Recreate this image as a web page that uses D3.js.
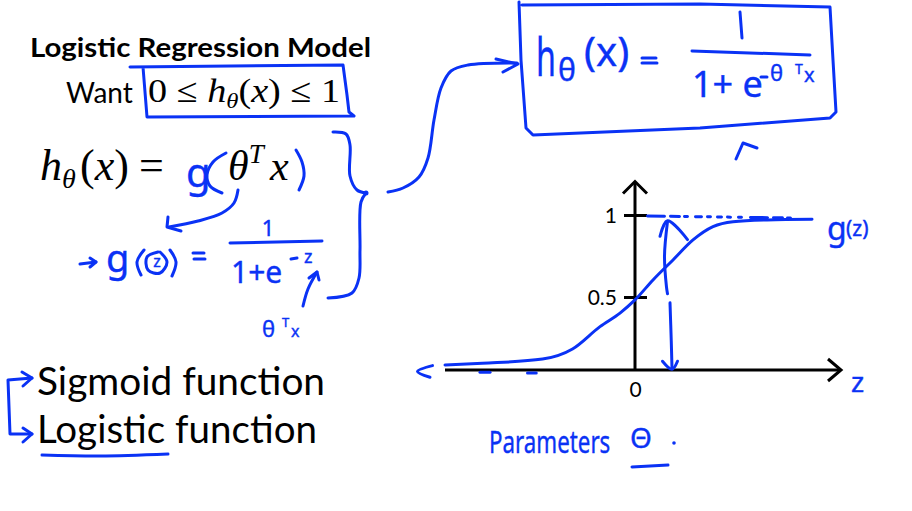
<!DOCTYPE html>
<html>
<head>
<meta charset="utf-8">
<script src="https://cdnjs.cloudflare.com/ajax/libs/d3/7.8.5/d3.min.js"></script>
<style>
	body { margin: 0; background: #fff; }
	#vis-main { width: 912px; height: 511px; }
	.hand { fill: #0a32f5; stroke: #0a32f5; stroke-width: 0.4; font-family: 'Noto Sans', sans-serif; }
	.ink { fill: none; stroke: #0a32f5; stroke-width: 3; stroke-linecap: round; stroke-linejoin: round; }
	.pen { fill: none; stroke: #000; stroke-width: 3; stroke-linecap: butt; }
	.slide { font-family: Lato, 'Open Sans', sans-serif; fill: #000; }
	.math { font-family: 'Liberation Serif', serif; fill: #000; }
	.tick text { font-family: Lato, sans-serif; font-size: 21px; fill: #000; }
</style>
</head>
<body>
<div id="vis-main"></div>
<script>

/* Data */
/* ---- */

var titleText = 'Logistic Regression Model';
var bulletLabels = ['Sigmoid function', 'Logistic function'];

// hand drawn sigmoid
var sigmoidZ = [-7.6, -6.1, -3.7, -2.5, -1.4, -0.6, 0, 0.72, 1.52, 2.32, 3.12, 3.92, 5.28, 7.08];
var sigmoidG = [0.034, 0.046, 0.075, 0.144, 0.297, 0.39, 0.48, 0.604, 0.726, 0.848, 0.929, 0.959, 0.970, 0.974];

var yTickValues = [0.5, 1];
var yTickLabels = ['0.5', '1'];
var xTickValues = [0];
var xTickLabels = ['0'];


/* Globals */
/* ------- */

var vis = vis || {};

vis.svg;
vis.scale = { x: undefined, y: undefined };
vis.line = d3.line();
vis.smooth = d3.line().curve(d3.curveCatmullRom.alpha(0.5));


/* Helpers */
/* ------- */

function ink(points, smooth) {

	return vis.svg.append('path')
		.attr('class', 'ink')
		.attr('d', smooth ? vis.smooth(points) : vis.line(points));

} // ink()

function hand(x, y, size, str, anchor) {

	return vis.svg.append('text')
		.attr('class', 'hand')
		.attr('x', x)
		.attr('y', y)
		.style('font-size', size + 'px')
		.attr('text-anchor', anchor || 'start')
		.text(str);

} // hand()


/* General */
/* ------- */

function setupVisual() {

	vis.svg = d3.select('#vis-main')
		.append('svg')
			.attr('width', 912)
			.attr('height', 511);

	vis.scale.x = d3.scaleLinear().domain([-8, 8]).range([435, 835]);
	vis.scale.y = d3.scaleLinear().domain([0, 0.5, 1]).range([370, 297, 215]); // hand drawn ticks are uneven

} // setupVisual()


/* Slide text */
/* ---------- */

function drawSlideText() {

	vis.svg.append('text')
		.attr('class', 'slide')
		.attr('x', 30).attr('y', 57)
		.attr('textLength', 341).attr('lengthAdjust', 'spacingAndGlyphs')
		.style('font-size', '27px').style('font-weight', 700)
		.text(titleText);

	vis.svg.append('text')
		.attr('class', 'slide')
		.attr('x', 66).attr('y', 103)
		.style('font-size', '28px')
		.text('Want');

	// 0 <= h(x) <= 1
	var want = vis.svg.append('text').attr('class', 'math').attr('y', 102).style('font-size', '34px')
		.attr('textLength', 192).attr('lengthAdjust', 'spacingAndGlyphs');
	want.append('tspan').attr('x', 148).text('0 ≤ ');
	want.append('tspan').style('font-style', 'italic').text('h');
	want.append('tspan').attr('dy', 6).style('font-size', '22px').style('font-style', 'italic').text('θ');
	want.append('tspan').attr('dy', -6).text('(');
	want.append('tspan').style('font-style', 'italic').text('x');
	want.append('tspan').text(') ≤ 1');

	// h(x) = g(theta^T x)
	var hx = vis.svg.append('text').attr('class', 'math').attr('y', 180).style('font-size', '44px');
	hx.append('tspan').attr('x', 40).style('font-style', 'italic').text('h');
	hx.append('tspan').attr('dy', 8).style('font-size', '28px').style('font-style', 'italic').text('θ');
	hx.append('tspan').attr('x', 80).attr('dy', -8).text('(');
	hx.append('tspan').style('font-style', 'italic').text('x');
	hx.append('tspan').text(')');
	hx.append('tspan').attr('x', 139).text('=');

	var th = vis.svg.append('text').attr('class', 'math').attr('y', 180).style('font-size', '42px').style('font-style', 'italic');
	th.append('tspan').attr('x', 228).text('θ');
	th.append('tspan').attr('dy', -17).style('font-size', '27px').text('T');
	th.append('tspan').attr('x', 270).attr('dy', 17).text('x');

	bulletLabels.forEach(function(d, i) {
		vis.svg.append('text')
			.attr('class', 'slide')
			.attr('x', 37).attr('y', 395 + i * 48)
			.attr('textLength', i ? 280 : 288).attr('lengthAdjust', 'spacingAndGlyphs')
			.style('font-size', '38px')
			.text(d);
	});

} // drawSlideText()


/* Sigmoid plot */
/* ------------ */

function drawPlot() {

	var x = vis.scale.x, y = vis.scale.y;

	// axes
	var yAxis = d3.axisLeft(y).tickValues(yTickValues)
		.tickFormat(function(d, i) { return yTickLabels[i]; })
		.tickSizeInner(12).tickSizeOuter(0).tickPadding(6);

	var gy = vis.svg.append('g').attr('transform', 'translate(' + x(0) + ',0)').call(yAxis);
	gy.select('.domain').remove();
	gy.selectAll('.tick line').attr('x1', -11).attr('x2', 12).attr('stroke', '#000').attr('stroke-width', 3);
	gy.selectAll('.tick text').attr('dy', '0.36em');

	var xAxis = d3.axisBottom(x).tickValues(xTickValues)
		.tickFormat(function(d, i) { return xTickLabels[i]; })
		.tickSize(0).tickPadding(12);

	var gx = vis.svg.append('g').attr('transform', 'translate(0,' + y(0) + ')').call(xAxis);
	gx.select('.domain').remove();

	var top = y(1.21), right = x(8.28);

	vis.svg.append('path').attr('class', 'pen').attr('d', vis.line([[x(0), y(0) + 1], [x(0), top + 2]]));
	vis.svg.append('path').attr('class', 'pen').attr('stroke-linejoin', 'miter')
		.attr('d', vis.line([[x(0) - 12, top + 13], [x(0), top + 1], [x(0) + 12, top + 13]]));
	vis.svg.append('path').attr('class', 'pen').attr('d', vis.line([[x(-7.6), y(0)], [right - 2, y(0)]]));
	vis.svg.append('path').attr('class', 'pen').attr('stroke-linejoin', 'miter')
		.attr('d', vis.line([[right - 14, y(0) - 11], [right - 1, y(0)], [right - 14, y(0) + 11]]));

	// sigmoid curve
	var pts = sigmoidZ.map(function(z, i) { return [x(z), y(sigmoidG[i])]; });
	vis.svg.append('path')
		.attr('class', 'ink')
		.attr('d', d3.line().curve(d3.curveMonotoneX)(pts));

	// dotted asymptote at g = 1
	vis.svg.append('path')
		.attr('class', 'ink')
		.attr('stroke-width', 2.5)
		.attr('stroke-linecap', 'butt')
		.attr('stroke-dasharray', '17,6,9,5,3,8,6,6,3,7,4,6,3,8,3,9')
		.attr('d', vis.line([[x(0.5), y(1) + 1], [x(6.4), y(1) + 3]]));

	// vertical double arrow
	ink([[x(1.3), y(0.96)], [x(1.18), y(0.75)], [x(1.26), y(0.56)], [x(1.3), y(0.52)]], true);
	ink([[x(1.4), y(0.46)], [x(1.45), y(0.2)], [x(1.48), y(0.01)]], true);
	ink([[x(1), y(0.87)], [x(1.3), y(0.965)], [x(2.1), y(0.85)]], true);
	ink([[x(1.1), y(0.06)], [x(1.48), y(0.005)], [x(1.7), y(0.06)]], true);

	// small marks along the axis
	ink([[x(-8.1), y(0.03)], [x(-8.7), y(-0.01)], [x(-8.2), y(-0.05)]], true);
	ink([[x(-6.2), y(-0.015)], [x(-5.8), y(-0.015)]]);
	ink([[x(-4.3), y(-0.02)], [x(-3.95), y(-0.02)]]);

	// labels
	hand(827, 240, 32, 'g');
	hand(846, 236, 21, '(z)');
	hand(851, 392, 28, 'z');

} // drawPlot()


/* Annotations */
/* ----------- */

function drawAnnotations() {

	// box around the "want" inequality
	ink([[130, 67], [343, 65], [347, 95], [349, 112], [354, 116], [147, 117], [143, 67]]);

	// g( ... ) around theta^T x
	hand(186, 187, 40, 'g');
	ink([[226, 153], [213, 162], [207, 175], [210, 186], [222, 193]], true);
	ink([[296, 150], [302, 162], [304, 176], [299, 190]], true);
	ink([[238, 190], [234, 203], [222, 213], [198, 221], [169, 227]], true);
	ink([[168, 217], [167, 227], [181, 231]]);

	// -> g(z) = 1 / (1 + e^-z)
	ink([[80, 264], [96, 262]]);
	ink([[90, 258], [96, 262], [90, 267]]);
	hand(106, 272, 38, 'g');
	ink([[144, 250], [137, 262], [141, 275]], true);
	ink([[158, 252], [147, 257], [148, 270], [160, 273], [167, 262], [160, 252]], true);
	hand(157, 267, 16, 'z', 'middle');
	ink([[170, 250], [176, 262], [172, 276]], true);
	ink([[193, 253], [204, 253]]);
	ink([[194, 259], [205, 259]]);
	hand(268, 236, 22, '1', 'middle');
	ink([[230, 243], [322, 241]]);
	hand(231, 283, 30, '1+e');
	ink([[291, 259], [297, 258]]);
	hand(304, 263, 18, 'z');
	ink([[303, 306], [308, 289], [317, 272]], true);
	ink([[309, 278], [317, 272], [319, 280]]);
	hand(262, 337, 22, 'θ');
	hand(282, 327, 13, 'T');
	hand(291, 337, 16, 'x');

	// brace
	ink([[333, 132], [346, 134], [350, 145], [350, 176], [357, 190], [366, 193]], true);
	ink([[366, 193], [361, 202], [360, 250], [359, 278], [352, 293], [328, 298]], true);
	vis.svg.append('circle').attr('cx', 366).attr('cy', 193).attr('r', 2.5).attr('fill', '#0a32f5');

	// arrow into the boxed formula
	ink([[388, 192], [403, 188], [419, 177], [428, 158], [434, 120], [441, 88], [451, 71], [468, 65], [517, 63]], true);
	ink([[496, 59], [518, 64], [503, 72]]);

	// boxed formula
	ink([[519, 2], [521, 60], [526, 128], [533, 135], [700, 128], [830, 118], [836, 112], [833, 60], [830, 7], [700, 4], [522, 5]]);
	hand(0, 0, 52, 'h').attr('transform', 'translate(536,76) scale(0.62,1)');
	hand(558, 81, 30, 'θ');
	hand(584, 66, 40, '(x)');
	ink([[642, 58], [656, 58]]);
	ink([[642, 63], [657, 63]]);
	ink([[740, 12], [742, 38]]);
	ink([[692, 51], [810, 55]]);
	hand(692, 97, 36, '1+ e');
	ink([[761, 77], [767, 77]]);
	hand(770, 81, 22, 'θ');
	hand(795, 74, 14, 'T');
	hand(804, 82, 20, 'x');
	ink([[736, 159], [743, 143], [757, 148]]);

	// sigmoid / logistic bracket
	ink([[32, 378], [8, 380], [10, 434], [32, 434]]);
	ink([[22, 372], [32, 378], [23, 386]]);
	ink([[23, 428], [32, 434], [23, 442]]);
	ink([[42, 455], [100, 456], [168, 454]], true);

	// parameters
	hand(0, 0, 31, 'Parameters').attr('transform', 'translate(489,453) scale(0.72,1)');
	hand(630, 448, 28, 'Θ');
	vis.svg.append('circle').attr('cx', 674).attr('cy', 443).attr('r', 1.8).attr('fill', '#0a32f5');
	ink([[632, 467], [668, 465]]);

} // drawAnnotations()


setupVisual();
drawSlideText();
drawPlot();
drawAnnotations();

</script>
</body>
</html>
